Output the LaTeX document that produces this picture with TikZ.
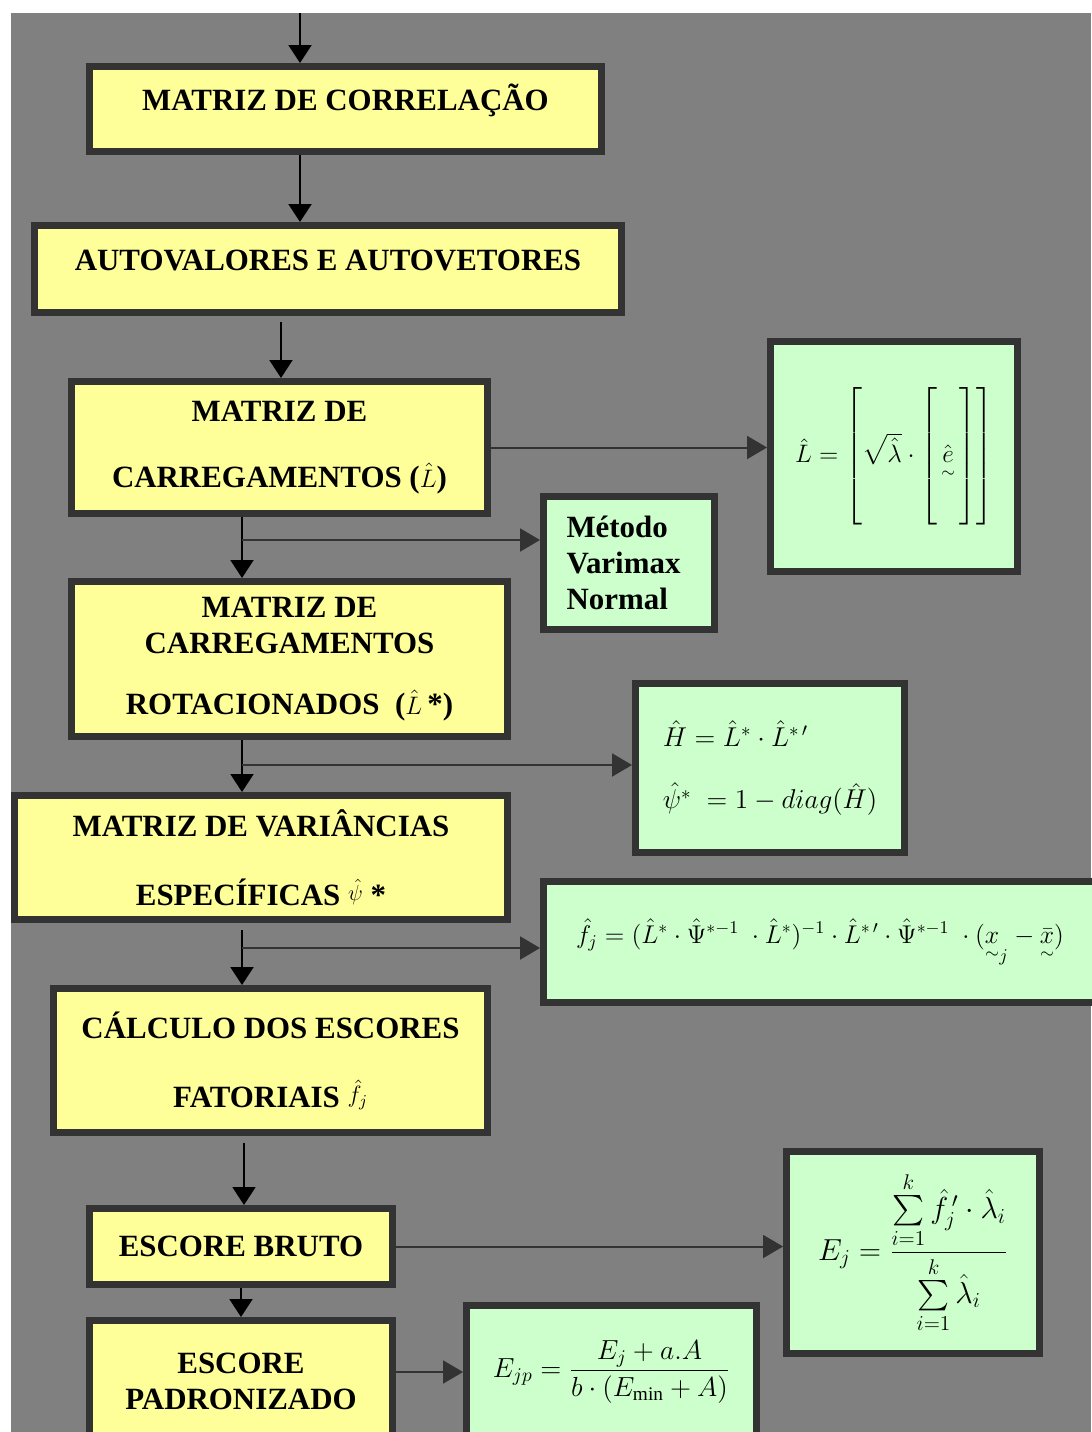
\RequirePackage{fix-cm}
\documentclass[tikz,border=0pt]{standalone}
\usepackage{amsmath}
\usepackage{fontspec}
\setmainfont{Liberation Serif}
\usepackage{tikz}
\usetikzlibrary{arrows.meta}
\usepackage{xcolor}
\definecolor{fundo}{HTML}{808080}
\definecolor{borda}{HTML}{333333}
\definecolor{caixa}{HTML}{FFFF99}
\definecolor{formula}{HTML}{CCFFCC}
\newcommand{\eqp}[2][14]{{\fontsize{#1}{#1}\selectfont$#2$}}

\begin{document}
\begin{tikzpicture}[x=0.02cm, y=-0.02cm,
		etapa/.style={draw=borda, line width=0.14cm, fill=caixa, align=center, inner sep=0pt, font=\bfseries\fontsize{17.6}{20.5}\selectfont},
		formulabox/.style={draw=borda, line width=0.14cm, fill=formula, align=left, inner sep=0pt},
		topo/.style={text height=0.7em, text depth=0.55em},
		seta/.style={line width=0.04cm, -{Triangle[width=0.46cm,length=0.36cm]}},
		ramo/.style={draw=borda, line width=0.04cm, -{Triangle[width=0.46cm,length=0.4cm]}}]
		\fill [white] (0,0) rectangle (1091,1432);
		\fill [fundo] (11,13) rectangle (1091,1432);
		\useasboundingbox (0,0) rectangle (1091,1432);
		%
		\coordinate (inicio) at (300,13);
		\coordinate (s2) at (281,322);
		\coordinate (r1) at (242,540);
		\coordinate (r2) at (242,765);
		\coordinate (s3) at (242,930);
		\coordinate (r3) at (242,948);
		\coordinate (s4) at (244,1143);
		%
		\node (corr) [etapa, topo, minimum width=10.24cm, minimum height=1.70cm] at (345.5,109) {MATRIZ DE CORRELAÇÃO};
		\node (autov) [etapa, topo, minimum width=11.74cm, minimum height=1.74cm] at (328,269) {AUTOVALORES E AUTOVETORES};
		\node (carreg) [etapa, minimum width=8.32cm, minimum height=2.64cm] at (279.5,447.5) {MATRIZ DE\\[17pt]CARREGAMENTOS (\eqp[14.4]{\hat{L}})};
		\node (varimax) [etapa, align=left, text width=2.5cm, minimum width=3.42cm, minimum height=2.66cm, fill=formula] at (629,563) {Método\\Varimax\\Normal};
		\node (rot) [etapa, minimum width=8.72cm, minimum height=3.10cm] at (289.5,659) {MATRIZ DE\\CARREGAMENTOS\\[14pt]ROTACIONADOS~~(\eqp[14.4]{\hat{L}}\,*)};
		\node (var) [etapa, minimum width=9.86cm, minimum height=2.48cm] at (261,857.5) {MATRIZ DE VARIÂNCIAS\\[19pt]ESPECÍFICAS \raisebox{3pt}{\eqp[12.5]{\hat{\psi}}} *};
		\node (calc) [etapa, minimum width=8.68cm, minimum height=2.88cm] at (270.5,1060.5) {CÁLCULO DOS ESCORES\\[19pt]FATORIAIS \raisebox{3pt}{\eqp[13.5]{\hat{f}_{j}}}};
		\node (bruto) [etapa, minimum width=6.06cm, minimum height=1.52cm] at (241,1246.5) {ESCORE BRUTO};
		\node (padr) [etapa, minimum width=6.06cm, minimum height=2.42cm] at (241,1381) {ESCORE\\PADRONIZADO};
		%
		\node (lbox) [formulabox, minimum width=4.94cm, minimum height=4.60cm] at (894,456.5) {\eqp[14.4]{\hat{L}=\left[\sqrt{\hat{\lambda}}\cdot\left[\,\hat{\underset{\sim}{e}}\,\vrule height 1.25cm depth 1.25cm width 0pt\right]\right]}};
		\node (hbox) [formulabox, minimum width=5.38cm, minimum height=3.38cm] at (770,768) {\eqp[15.5]{\hat{H}=\hat{L}^{\ast}\cdot\hat{L}^{\ast\,\prime}}\\[20pt]\eqp[15.5]{\hat{\psi}^{\ast}\;=1-diag(\hat{H})}};
		\node (fbox) [formulabox, minimum width=11.06cm, minimum height=2.42cm] at (820,942) {\eqp[14.6]{\hat{f}_{j}=(\hat{L}^{\ast}\cdot\hat{\Psi}^{\ast-1}\;\cdot\hat{L}^{\ast})^{-1}\cdot\hat{L}^{\ast\,\prime}\cdot\hat{\Psi}^{\ast-1}\;\cdot(\underset{\sim}{x}_{j}-\underset{\sim}{\bar{x}})}};
		\node (ejbox) [formulabox, minimum width=5.06cm, minimum height=4.04cm] at (913,1252.5) {\eqp[17.3]{E_{j}=\dfrac{\sum\limits_{i=1}^{k}\hat{f}_{j}^{\,\prime}\cdot\hat{\lambda}_{i}}{\sum\limits_{i=1}^{k}\hat{\lambda}_{i}}}};
		\node (ejp) [formulabox, minimum width=5.80cm, minimum height=2.66cm] at (611.5,1372) {\eqp[15.7]{E_{jp}=\dfrac{E_{j}+a.A}{b\cdot(E_{\min}+A)}}};
		%
		\draw [seta] (inicio) -- (inicio |- corr.north);
		\draw [seta] (corr.south -| inicio) -- (autov.north -| inicio);
		\draw [seta] (s2) -- (s2 |- carreg.north);
		\draw [ramo] (carreg.east) -- (carreg.east -| lbox.west);
		%
		\draw [seta] (carreg.south -| r1) -- (rot.north -| r1);
		\draw [ramo] (r1) -- (r1 -| varimax.west);
		\draw [seta] (rot.south -| r2) -- (var.north -| r2);
		\draw [ramo] (r2) -- (r2 -| hbox.west);
		\draw [seta] (s3) -- (s3 |- calc.north);
		\draw [ramo] (r3) -- (r3 -| fbox.west);
		%
		\draw [seta] (s4) -- (s4 |- bruto.north);
		\draw [ramo] (bruto.east) -- (bruto.east -| ejbox.west);
		\draw [seta] (bruto.south) -- (padr.north);
		\draw [ramo] (ejp.west -| padr.east) -- (ejp.west);
	\end{tikzpicture}
\end{document}
